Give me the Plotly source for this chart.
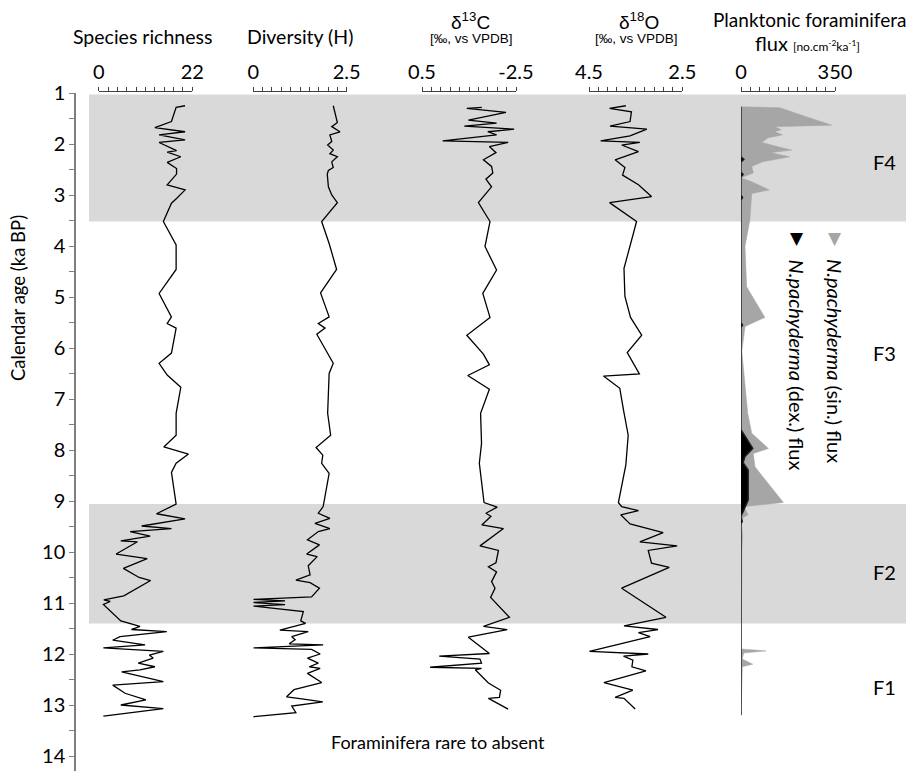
import plotly.graph_objects as go

# ---------------- data ----------------
sr_age = [1.25, 1.28, 1.56, 1.68, 1.76, 1.82, 1.92, 1.97, 2.13, 2.16, 2.25, 2.36, 2.48, 2.59, 2.80, 2.90,
          3.07, 3.16, 3.52, 3.98, 4.46, 4.93, 5.39, 5.52, 5.61, 6.10, 6.30, 6.53, 6.77, 7.28, 7.71, 7.94,
          8.08, 8.26, 8.44, 9.06, 9.25, 9.35, 9.49, 9.54, 9.60, 9.69, 9.78, 9.80, 10.04, 10.13, 10.32,
          10.50, 10.56, 10.75, 10.86, 10.94, 10.97, 11.03, 11.27, 11.35, 11.46, 11.52, 11.56, 11.66,
          11.73, 11.82, 11.88, 11.95, 12.02, 12.08, 12.18, 12.25, 12.31, 12.35, 12.54, 12.61, 12.77,
          12.90, 13.00, 13.07, 13.22]
sr_val = [20.3, 18.2, 17.1, 13.2, 20.3, 14.2, 20.3, 14.2, 18.3, 16.1, 19.3, 16.1, 18.3, 18.3, 16.1, 20.3,
          18.3, 17.1, 15.2, 18.2, 18.2, 14.2, 17.1, 16.1, 18.2, 17.1, 14.2, 16.1, 19.3, 18.2, 18.2, 15.3,
          21.1, 18.2, 17.1, 18.2, 13.6, 20.3, 10.1, 17.1, 7.4, 12.1, 5.2, 9.1, 4.1, 11.4, 5.8,
          9.5, 12.2, 8.1, 5.9, 1.2, 2.7, 1.1, 4.2, 5.2, 9.7, 7.7, 16.0, 5.0,
          3.3, 10.9, 1.1, 15.2, 11.9, 12.8, 9.3, 13.2, 9.7, 5.4, 15.2, 3.3, 6.2,
          11.1, 5.2, 15.2, 1.1]

div_age = [1.25, 1.58, 1.66, 1.76, 1.82, 1.95, 2.02, 2.12, 2.19, 2.25, 2.35, 2.46, 2.52, 2.59, 2.84, 3.00,
           3.15, 3.52, 3.95, 4.46, 4.92, 5.39, 5.52, 5.61, 5.73, 6.30, 6.50, 7.28, 7.71, 7.95, 8.10, 8.26,
           8.46, 9.11, 9.24, 9.34, 9.44, 9.54, 9.60, 9.76, 9.86, 10.04, 10.09, 10.27, 10.45, 10.55, 10.60,
           10.71, 10.88, 10.93, 10.96, 10.99, 11.03, 11.06, 11.17, 11.35, 11.40, 11.45, 11.53, 11.56,
           11.66, 11.72, 11.80, 11.82, 11.88, 11.91, 12.00, 12.08, 12.18, 12.25, 12.28, 12.38, 12.56,
           12.70, 12.84, 12.88, 12.94, 13.02, 13.15, 13.23]
div_val = [2.14, 2.25, 2.10, 2.32, 2.05, 2.10, 1.99, 2.14, 2.05, 2.25, 2.10, 2.14, 2.01, 1.98, 2.01, 2.10,
           2.25, 1.83, 2.03, 2.23, 1.80, 2.03, 1.74, 1.92, 1.70, 2.14, 2.03, 1.99, 2.07, 1.68, 1.86, 1.83,
           2.03, 1.87, 1.74, 2.05, 1.65, 2.05, 1.74, 1.45, 1.77, 1.43, 1.71, 1.47, 1.52, 1.14, 1.52,
           1.77, 1.56, 0.0, 0.85, 0.0, 0.85, 0.0, 1.34, 1.27, 1.40, 1.10, 0.71, 1.47,
           1.03, 1.12, 0.96, 1.87, 0.0, 1.56, 1.79, 1.45, 1.74, 1.50, 1.79, 1.45, 1.83,
           1.09, 0.89, 1.30, 1.86, 1.03, 1.14, 0.0]

c13_age = [1.28, 1.30, 1.38, 1.53, 1.59, 1.65, 1.71, 1.76, 1.82, 1.94, 1.97, 2.05, 2.17, 2.31, 2.44, 2.57,
           2.69, 2.84, 3.15, 3.52, 4.01, 4.47, 4.93, 5.40, 5.75, 6.12, 6.33, 6.54, 6.81, 7.28, 7.87, 8.26,
           9.03, 9.12, 9.24, 9.30, 9.47, 9.54, 9.88, 9.97, 10.21, 10.29, 10.39, 10.58, 10.71, 10.89,
           11.28, 11.46, 11.52, 11.67, 11.99, 12.04, 12.10, 12.18, 12.26, 12.28, 12.31, 12.57, 12.71,
           12.85, 12.87, 13.08]
c13_val = [-1.41, -0.93, -2.18, -0.98, -1.88, -0.85, -2.44, -1.60, -1.88, -0.16, -2.25, -1.65, -1.86, -1.46,
           -1.72, -1.76, -1.54, -1.72, -1.30, -1.67, -1.51, -1.88, -1.44, -1.67, -0.93, -1.46, -1.65, -0.96,
           -1.65, -1.37, -1.40, -1.33, -1.48, -1.90, -1.54, -1.70, -1.41, -2.10, -1.35, -1.94, -1.86, -1.62,
           -1.88, -1.72, -1.83, -1.69, -2.29, -1.46, -2.22, -0.98, -1.65, -0.05, -1.35, -1.40, 0.24, -1.40,
           -1.20, -1.62, -2.01, -1.97, -1.62, -2.25]

o18_age = [1.25, 1.30, 1.37, 1.56, 1.65, 1.71, 1.84, 1.94, 1.97, 2.02, 2.15, 2.31, 2.46, 2.61, 2.80, 3.03,
           3.15, 3.52, 4.44, 4.99, 5.40, 5.75, 6.09, 6.51, 6.55, 6.79, 7.22, 7.71, 8.29, 9.03, 9.11, 9.19,
           9.27, 9.45, 9.62, 9.80, 9.88, 9.97, 10.22, 10.30, 10.71, 11.28, 11.45, 11.52, 11.58, 11.66,
           11.95, 12.00, 12.04, 12.12, 12.25, 12.33, 12.56, 12.71, 12.85, 12.87, 13.08]
o18_val = [3.71, 4.06, 3.59, 3.62, 4.05, 3.26, 3.62, 4.25, 3.41, 3.80, 3.44, 3.94, 3.73, 3.78, 3.44, 3.16,
           4.06, 3.48, 3.75, 3.73, 3.61, 3.37, 3.68, 3.42, 4.19, 3.84, 3.76, 3.66, 3.71, 3.87, 3.80, 3.44,
           3.82, 3.62, 2.91, 3.41, 2.61, 3.23, 3.16, 2.78, 3.80, 2.85, 3.75, 3.02, 3.44, 3.19,
           4.49, 3.23, 3.76, 3.56, 3.58, 3.28, 4.18, 3.56, 3.94, 3.75, 3.51]

sin_age = [1.27, 1.29, 1.40, 1.63, 1.66, 1.72, 1.76, 1.82, 1.88, 1.97, 2.07, 2.12, 2.17, 2.25, 2.35, 2.44,
           2.57, 2.66, 2.74, 2.90, 2.97, 3.49, 4.01, 4.80, 5.40, 5.58, 5.79, 6.06, 6.72, 7.28, 7.67, 7.97,
           8.07, 8.33, 9.03, 9.11, 9.27, 9.35, 9.70, 10.00, 10.50, 11.00, 11.50, 11.90, 11.94, 11.98,
           12.10, 12.20, 12.25, 12.60, 13.20]
sin_val = [0, 145, 207, 338, 127, 150, 125, 155, 100, 77, 150, 189, 110, 182, 80, 40,
           46, 0, 40, 105, 40, 33, 15, 21, 89, 15, 10, 3, 15, 25, 40, 102,
           46, 52, 158, 9, 27, 0, 6, 3, 3, 2, 2, 0, 93, 10,
           5, 44, 5, 3, 0]

dex_age = [1.27, 2.25, 2.30, 2.36, 2.55, 2.60, 2.65, 3.00, 3.05, 3.10, 5.50, 5.55, 5.60, 7.60, 7.97, 8.13,
           8.25, 8.39, 8.98, 9.06, 9.20, 9.30, 9.40, 9.45, 13.20]
dex_val = [0, 0, 11, 0, 0, 8, 0, 0, 6, 0, 0, 6, 0, 0, 44, 15,
           8, 27, 27, 21, 9, 0, 5, 0, 0]

band_ranges = [(1.03, 3.52), (9.06, 11.4)]
zone_labels = ["F4", "F3", "F2", "F1"]
zone_ages = [2.35, 6.1, 10.4, 12.65]

panel_ranges = [(0, 22), (0, 2.5), (0.5, -2.5), (4.5, 2.5), (0, 350)]
panel_ticktext = [("0", "22"), ("0", "2.5"), ("0.5", "-2.5"), ("4.5", "2.5"), ("0", "350")]

# ---------------- layout helpers ----------------
# The page body has a default 8px margin, so the figure is offset by 8px.
OFF = 8
WIN_W, WIN_H = 914, 773
W, H = WIN_W - OFF, WIN_H - OFF

def px(x):
    return (x - OFF) / W

def py(y):
    return 1 - (y - OFF) / H

FONT = "Lato"
panel_px = [(98.7, 192.3), (253.3, 346.7), (422.0, 516.0), (589.0, 682.3), (741.0, 835.0)]

fig = go.Figure()

line_style = dict(color="black", width=1.3)
fig.add_trace(go.Scatter(x=sr_val, y=sr_age, mode="lines", line=line_style, xaxis="x", yaxis="y"))
fig.add_trace(go.Scatter(x=div_val, y=div_age, mode="lines", line=line_style, xaxis="x2", yaxis="y"))
fig.add_trace(go.Scatter(x=c13_val, y=c13_age, mode="lines", line=line_style, xaxis="x3", yaxis="y"))
fig.add_trace(go.Scatter(x=o18_val, y=o18_age, mode="lines", line=line_style, xaxis="x4", yaxis="y"))
fig.add_trace(go.Scatter(x=sin_val, y=sin_age, mode="lines", fill="tozerox", fillcolor="#a6a6a6",
                         line=dict(color="#a6a6a6", width=0.5), xaxis="x5", yaxis="y"))
fig.add_trace(go.Scatter(x=dex_val, y=dex_age, mode="lines", fill="tozerox", fillcolor="black",
                         line=dict(color="#202020", width=1.4), xaxis="x5", yaxis="y"))

axis_y_line = 90.7
layout_axes = {}
for i, ((a, b), (t0, t1), (x0, x1)) in enumerate(zip(panel_ranges, panel_ticktext, panel_px)):
    name = "xaxis" if i == 0 else f"xaxis{i+1}"
    step = abs(b - a) / 10
    layout_axes[name] = dict(
        domain=[px(x0), px(x1)], range=[a, b], anchor="free", position=py(axis_y_line),
        side="top", showline=True, linecolor="#404040", linewidth=1,
        tickmode="array", tickvals=[a, b], ticktext=[t0, t1],
        ticks="outside", ticklen=4, tickcolor="#404040", tickwidth=1,
        minor=dict(tickmode="linear", tick0=min(a, b), dtick=step, ticks="outside", ticklen=4,
                   tickcolor="#404040", tickwidth=1, showgrid=False),
        tickfont=dict(family=FONT, size=20, color="black"),
        showgrid=False, zeroline=False, fixedrange=True, automargin=False,
    )

fig.update_layout(**layout_axes)
fig.update_layout(
    width=W, height=H, autosize=False,
    margin=dict(l=0, r=0, t=0, b=0, pad=0),
    paper_bgcolor="white", plot_bgcolor="rgba(0,0,0,0)",
    showlegend=False,
    yaxis=dict(
        domain=[max(0, py(771.3)), py(93)], range=[14.3, 1.0], anchor="free", position=px(75),
        showline=True, linecolor="#7f7f7f", linewidth=1.5,
        tickmode="linear", tick0=1, dtick=1, ticks="outside", ticklen=5, tickcolor="#7f7f7f",
        minor=dict(tickmode="linear", tick0=1, dtick=0.5, ticks="outside", ticklen=5,
                   tickcolor="#7f7f7f", showgrid=False),
        tickfont=dict(family=FONT, size=20, color="black"),
        showgrid=False, zeroline=False, fixedrange=True, automargin=False,
    ),
)

# grey zone bands
for y0, y1 in band_ranges:
    fig.add_shape(type="rect", xref="paper", yref="y", x0=px(89), x1=1.0, y0=y0, y1=y1,
                  fillcolor="#d9d9d9", line=dict(width=0), layer="below")

ann = []
def add_text(text, x, y, size, family=FONT, angle=0, xanchor="center", yanchor="middle", color="black"):
    ann.append(dict(text=text, x=px(x), y=py(y), xref="paper", yref="paper", showarrow=False,
                    font=dict(family=family, size=size, color=color), textangle=angle,
                    xanchor=xanchor, yanchor=yanchor))

add_text("Species richness", 142, 37, 19.5)
add_text("Diversity (H)", 300, 37, 19.5)
add_text("δ<sup>13</sup>C", 471, 21, 19, family="Liberation Sans")
add_text("[‰, vs VPDB]", 472, 39, 13.5, family="Liberation Sans")
add_text("δ<sup>18</sup>O", 639, 21, 19, family="Liberation Sans")
add_text("[‰, vs VPDB]", 636, 39, 13.5, family="Liberation Sans")
add_text("Planktonic foraminifera", 809, 20, 19)
add_text("flux <span style='font-size:12px'>[no.cm<sup>-2</sup>ka<sup>-1</sup>]</span>", 807, 43, 20)
add_text("Calendar age (ka BP)", 18, 298, 18.5, angle=-90)
add_text("Foraminifera rare to absent", 438, 742, 18)

# legend
add_text("▼", 797, 238, 17, family="DejaVu Sans", color="black")
add_text("▼", 835, 238, 17, family="DejaVu Sans", color="#a6a6a6")
add_text("<i>N.pachyderma</i> (dex.) flux", 797, 257, 20, angle=90, yanchor="top")
add_text("<i>N.pachyderma</i> (sin.) flux", 835, 257, 20, angle=90, yanchor="top")

for lab, age in zip(zone_labels, zone_ages):
    ann.append(dict(text=lab, x=px(884), y=age, xref="paper", yref="y", showarrow=False,
                    font=dict(family=FONT, size=20, color="black"), xanchor="center", yanchor="middle"))

fig.update_layout(annotations=ann)
fig.write_html("out.html")
